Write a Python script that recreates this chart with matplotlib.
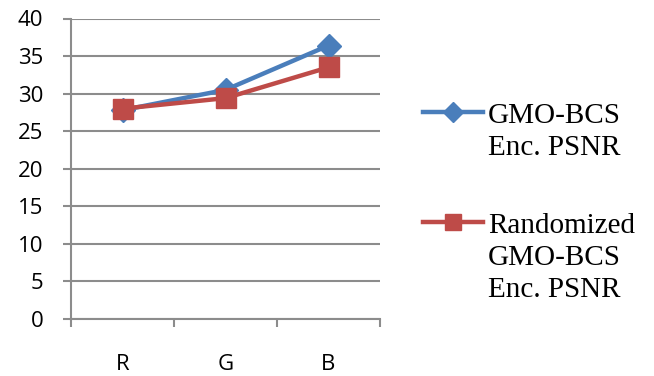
import matplotlib.pyplot as plt
from matplotlib.lines import Line2D
from matplotlib.ticker import FixedLocator

# data
channels = ['R', 'G', 'B']
gmo_bcs = [27.8, 30.5, 36.4]
randomized = [28.0, 29.4, 33.5]
yticks = [0, 5, 10, 15, 20, 25, 30, 35, 40]
labels = ['GMO-BCS\nEnc. PSNR', 'Randomized\nGMO-BCS\nEnc. PSNR']

blue = '#4A7EBB'
red = '#BE4B48'
grid_col = '#8C8C8C'
W, H = 654, 376

fig = plt.figure(figsize=(W / 100, H / 100), dpi=100)
ax = fig.add_axes([71 / W, 1 - 319 / H, (380 - 71) / W, (319 - 18.5) / H])

x = range(len(channels))
ax.plot(x, gmo_bcs, color=blue, lw=3.2, marker='D', ms=12, zorder=3)
ax.plot(x, randomized, color=red, lw=3.2, marker='s', ms=14.5, zorder=4)

ax.set_xlim(-0.5, 2.5)
ax.set_ylim(0, 40)
ax.set_yticks(yticks)
ax.yaxis.grid(True, color=grid_col, lw=1.5)
ax.set_axisbelow(True)

ax.set_xticks(list(x))
ax.set_xticklabels(channels)
ax.xaxis.set_minor_locator(FixedLocator([-0.5, 0.5, 1.5, 2.5]))
ax.tick_params(axis='x', which='major', length=0, pad=25, labelsize=16)
ax.tick_params(axis='x', which='minor', length=6, width=1.5, color=grid_col, direction='out')
ax.tick_params(axis='y', length=6, width=1.5, color=grid_col, direction='out', pad=14, labelsize=16)
for lab in ax.get_xticklabels() + ax.get_yticklabels():
    lab.set_fontfamily('Open Sans')

for s in ['top', 'right']:
    ax.spines[s].set_visible(False)
for s in ['left', 'bottom']:
    ax.spines[s].set_color(grid_col)
    ax.spines[s].set_linewidth(1.5)

# legend drawn by hand so the key sits on the first text line
leg_rows = [(112, 123), (222, 233)]
styles = [(blue, 'D', 10), (red, 's', 12)]
for (yl, yb), (c, m, ms), lab in zip(leg_rows, styles, labels):
    fig.add_artist(Line2D([423 / W, 483 / W], [1 - yl / H, 1 - yl / H], color=c, lw=3.2,
                          transform=fig.transFigure))
    fig.add_artist(Line2D([453 / W], [1 - yl / H], color=c, marker=m, ms=ms, lw=0,
                          transform=fig.transFigure))
    for i, part in enumerate(lab.split('\n')):
        fig.text(488 / W, 1 - (yb + 32 * i) / H, part, family='Liberation Serif', fontsize=21,
                 va='baseline')

fig.savefig('out.png', dpi=100)
